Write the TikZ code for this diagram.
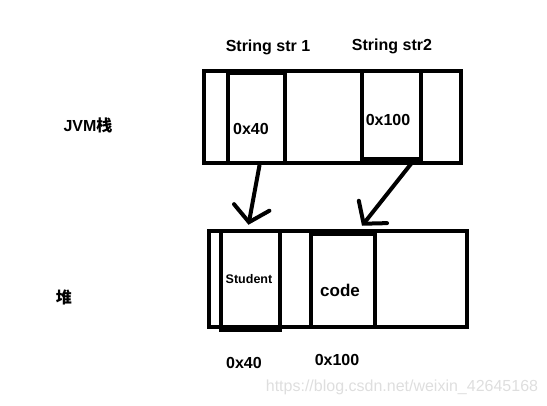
\documentclass[tikz,border=0pt]{standalone}
\usepackage{fontspec}
\setmainfont{Liberation Sans}
\newfontfamily\cjk{Noto Sans CJK SC}
\usetikzlibrary{arrows.meta, positioning, calc}
\definecolor{markgray}{HTML}{DEDEDE}

\tikzset{
  box/.style={draw=black, line width=4.5pt},
  cell/.style={draw=black, line width=4.5pt, inner sep=0pt},
  ptr/.style={black, line width=4pt, line cap=round, -{Straight Barb[length=15pt, width=36pt, line cap=round]}},
  lbl/.style={font=\bfseries\fontsize{16}{16}\selectfont}
}

\begin{document}
\begin{tikzpicture}[x=1pt, y=-1pt]
  % Canvas
  \useasboundingbox (0,0) rectangle (547,405);

  % Stack frame
  \draw[box] (204,71) rectangle (461,163);
  \node[cell, minimum width=57pt, minimum height=90pt] (str1cell) at (256.5,118) {};
  \node[cell, minimum width=59pt, minimum height=88pt] (str2cell) at (391.5,115) {};

  % Heap area
  \draw[box] (209,231) rectangle (467,327);
  \node[cell, minimum width=59pt, minimum height=99pt] (stuobj) at (250.5,280.5) {};
  \node[cell, minimum width=64pt, minimum height=93pt] (codeobj) at (343,280.5) {};

  % Variable names
  \node[lbl] (str1name) at (268,47) {String str 1};
  \node[lbl] (str2name) at (392,46) {String str2};

  % Section labels
  \node[lbl] (stacklbl) at (88,125) {JVM{\cjk 栈}};
  \node[lbl] (heaplbl) at (64,297) {\cjk 堆};

  % Stored references
  \node[lbl] (ref1) at (251,129) {0x40};
  \node[lbl] (ref2) at (388,120) {0x100};

  % Heap contents
  \node[font=\bfseries\fontsize{12.5}{12.5}\selectfont] (stutxt) at (249,279) {Student};
  \node[font=\bfseries\fontsize{17}{17}\selectfont] (codetxt) at (340,290) {code};

  % Heap addresses
  \node[lbl] (addr1) at (244,363) {0x40};
  \node[lbl] (addr2) at (337,360) {0x100};

  % Pointers
  \draw[ptr] ([xshift=3pt]str1cell.south) -- ([xshift=-2pt, yshift=4pt]stuobj.north);
  \draw[ptr] ([xshift=20pt, yshift=-2pt]str2cell.south) -- ([xshift=19pt, yshift=6pt]codeobj.north);

  % Watermark
  \node[markgray, font=\fontsize{16}{16}\selectfont] (mark) at (402,387) {https://blog.csdn.net/weixin\_42645168};
\end{tikzpicture}
\end{document}
